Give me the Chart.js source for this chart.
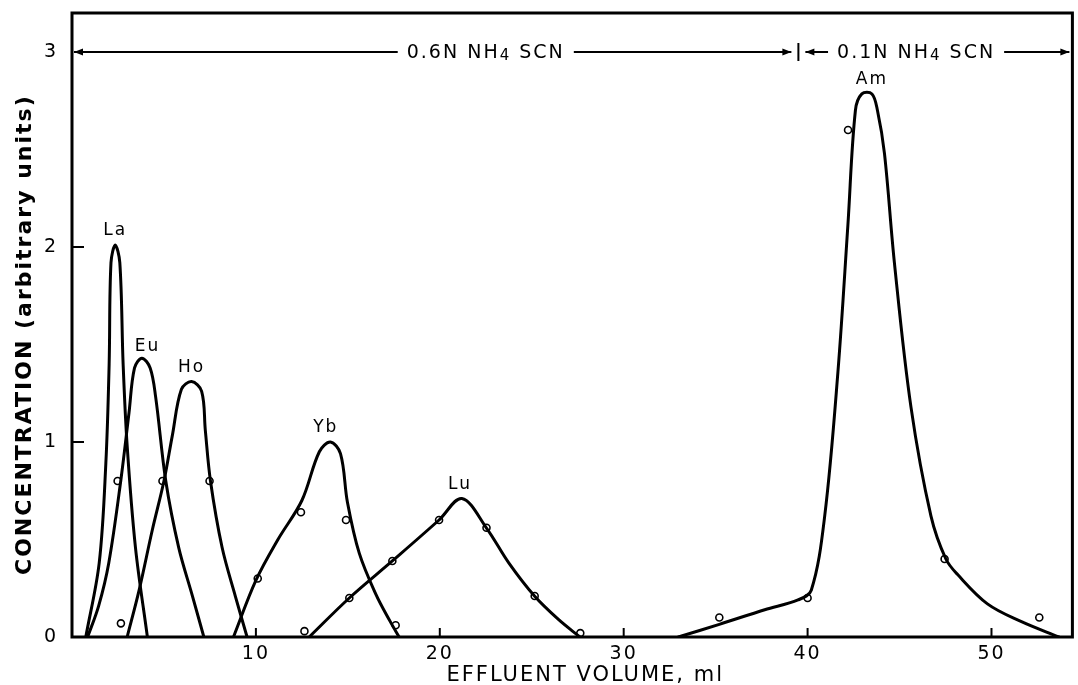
<!DOCTYPE html>
<html>
<head>
<meta charset="utf-8">
<script src="https://cdn.jsdelivr.net/npm/chart.js@4.4.1/dist/chart.umd.min.js"></script>
<style>
  html, body { margin: 0; padding: 0; background: #fff; }
  canvas { display: block; }
</style>
</head>
<body>
<canvas id="grafico" width="1078" height="685"></canvas>
<script>
// elution curves (x = effluent volume ml, y = concentration)
var laX = [0.75, 1.48, 1.84, 2.02, 2.12, 2.35, 2.6, 2.78, 3.0, 3.45, 4.1];
var laY = [0, 0.38, 0.89, 1.40, 1.92, 2.01, 1.92, 1.40, 0.98, 0.46, 0];

var euX = [0.85, 1.45, 2.0, 2.65, 3.1, 3.4, 3.8, 4.25, 4.55, 5.1, 5.8, 6.55, 7.17];
var euY = [0, 0.16, 0.38, 0.80, 1.15, 1.38, 1.43, 1.38, 1.23, 0.80, 0.46, 0.21, 0];

var hoX = [3.0, 3.65, 4.37, 5.0, 5.45, 5.95, 6.5, 7.05, 7.25, 7.53, 8.16, 8.88, 9.52];
var hoY = [0, 0.24, 0.55, 0.80, 1.03, 1.27, 1.31, 1.26, 1.06, 0.80, 0.46, 0.21, 0];

var ybX = [8.78, 10.0, 11.2, 12.5, 13.45, 14.05, 14.6, 14.98, 15.62, 16.52, 17.3, 17.79];
var ybY = [0, 0.29, 0.50, 0.70, 0.95, 1.0, 0.94, 0.69, 0.43, 0.22, 0.08, 0];

var luX = [12.9, 15.08, 17.42, 19.96, 21.2, 22.53, 23.75, 25.15, 26.45, 27.62];
var luY = [0, 0.20, 0.39, 0.60, 0.71, 0.56, 0.38, 0.21, 0.09, 0];

var amX = [32.97, 35.2, 37.67, 39.48, 40.2, 40.93, 41.65, 42.19, 42.6, 42.95, 43.5, 43.8, 44.18, 44.72, 45.62, 46.71, 47.52, 48.16, 49.78, 51.6, 53.67];
var amY = [0, 0.065, 0.14, 0.19, 0.24, 0.62, 1.36, 2.11, 2.70, 2.785, 2.785, 2.70, 2.48, 1.92, 1.18, 0.62, 0.40, 0.32, 0.17, 0.08, 0];

// measured points (open circles)
var obsX = [2.48, 2.66, 4.92, 7.48, 10.1, 12.45, 14.9, 17.6, 12.64, 15.08, 17.42, 19.96, 22.54, 25.16, 27.64, 35.2, 40.0, 42.2, 47.45, 52.6];
var obsY = [0.80, 0.07, 0.80, 0.80, 0.30, 0.64, 0.60, 0.06, 0.03, 0.20, 0.39, 0.60, 0.56, 0.21, 0.02, 0.10, 0.20, 2.60, 0.40, 0.10];

var xTickValues = [10, 20, 30, 40, 50];
var yTickValues = [0, 1, 2, 3];

var peakNames = ['La', 'Eu', 'Ho', 'Yb', 'Lu', 'Am'];
var peakLabelX = [2.35, 4.1, 6.5, 13.8, 21.1, 43.5];
var peakLabelY = [2.01, 1.42, 1.31, 1.0, 0.71, 2.785];

// eluent name is drawn as [before subscript, subscript, after]
var eluentNames = [['0.6N NH', '4', ' SCN'], ['0.1N NH', '4', ' SCN']];
var eluentFrom = [0, 39.5];
var eluentTo = [39.5, 54.4];
var eluentTextX = [22.5, 45.9];
var eluentLevel = 3;

var FONT = '"DejaVu Sans", sans-serif';

function punti(xs, ys) {
  return xs.map(function(x, i) { return {x: x, y: ys[i]}; });
}

function curva(xs, ys) {
  return {
    data: punti(xs, ys),
    borderColor: '#000',
    borderWidth: 3,
    pointRadius: 0,
    tension: 0.35,
    borderJoinStyle: 'round',
    borderCapStyle: 'round',
    fill: false
  };
}

var spaziatura = {
  id: 'spaziatura',
  beforeDraw: function(chart) {
    chart.ctx.letterSpacing = '2px';
  }
};

function freccia(ctx, x, y, dir) {
  ctx.beginPath();
  ctx.moveTo(x, y);
  ctx.lineTo(x - dir * 9, y - 3.5);
  ctx.lineTo(x - dir * 9, y + 3.5);
  ctx.closePath();
  ctx.fill();
}

var decorazioni = {
  id: 'decorazioni',
  afterDraw: function(chart) {
    var ctx = chart.ctx, a = chart.chartArea;
    var xs = chart.scales.x, ys = chart.scales.y;
    ctx.save();
    ctx.letterSpacing = '2px';
    ctx.strokeStyle = '#000';
    ctx.fillStyle = '#000';
    ctx.lineWidth = 3;
    ctx.strokeRect(a.left, a.top, a.right - a.left, a.bottom - a.top);

    // tick marks drawn inside the frame
    ctx.lineWidth = 2;
    xTickValues.forEach(function(v) {
      var px = xs.getPixelForValue(v);
      ctx.beginPath(); ctx.moveTo(px, a.bottom); ctx.lineTo(px, a.bottom - 9); ctx.stroke();
    });
    [1, 2].forEach(function(v) {
      var py = ys.getPixelForValue(v);
      ctx.beginPath(); ctx.moveTo(a.left, py); ctx.lineTo(a.left + 12, py); ctx.stroke();
    });

    // eluent ranges along the top
    var py = ys.getPixelForValue(eluentLevel);
    ctx.textBaseline = 'middle';
    ctx.textAlign = 'left';
    var grande = '19px ' + FONT, piccolo = '15px ' + FONT;
    for (var i = 0; i < eluentNames.length; i++) {
      var parti = eluentNames[i];
      var x1 = xs.getPixelForValue(eluentFrom[i]) + (i === 0 ? 2 : 7);
      var x2 = Math.min(xs.getPixelForValue(eluentTo[i]), a.right) - (i === 0 ? 7 : 3);
      ctx.lineWidth = 2.2;
      ctx.beginPath(); ctx.moveTo(x1, py); ctx.lineTo(x2, py); ctx.stroke();
      freccia(ctx, x1, py, -1);
      freccia(ctx, x2, py, 1);
      ctx.font = grande;
      var w0 = ctx.measureText(parti[0]).width, w2 = ctx.measureText(parti[2]).width;
      ctx.font = piccolo;
      var w1 = ctx.measureText(parti[1]).width;
      var w = w0 + w1 + w2;
      var tx = xs.getPixelForValue(eluentTextX[i]) - w / 2;
      ctx.fillStyle = '#fff';
      ctx.fillRect(tx - 9, py - 12, w + 18, 24);
      ctx.fillStyle = '#000';
      ctx.font = grande;
      ctx.fillText(parti[0], tx, py + 1);
      ctx.font = piccolo;
      ctx.fillText(parti[1], tx + w0, py + 4);
      ctx.font = grande;
      ctx.fillText(parti[2], tx + w0 + w1, py + 1);
    }
    var sx = xs.getPixelForValue(eluentTo[0]);
    ctx.lineWidth = 2;
    ctx.beginPath(); ctx.moveTo(sx, py - 9); ctx.lineTo(sx, py + 9); ctx.stroke();

    // peak names
    ctx.textAlign = 'center';
    ctx.font = '17px ' + FONT;
    for (var j = 0; j < peakNames.length; j++) {
      ctx.fillText(peakNames[j], xs.getPixelForValue(peakLabelX[j]), ys.getPixelForValue(peakLabelY[j]) - 14);
    }
    ctx.restore();
  }
};

var datasets = [
  curva(laX, laY), curva(euX, euY), curva(hoX, hoY),
  curva(ybX, ybY), curva(luX, luY), curva(amX, amY),
  {
    data: punti(obsX, obsY),
    showLine: false,
    pointStyle: 'circle',
    pointRadius: 3.5,
    pointBorderWidth: 1.6,
    pointBorderColor: '#000',
    pointBackgroundColor: '#fff'
  }
];

var grafico = new Chart(document.getElementById('grafico'), {
  type: 'line',
  data: { datasets: datasets },
  plugins: [spaziatura, decorazioni],
  options: {
    responsive: false,
    animation: false,
    devicePixelRatio: 1,
    layout: { padding: { top: 13, right: 3, left: 0, bottom: 0 } },
    plugins: { legend: { display: false }, tooltip: { enabled: false } },
    scales: {
      x: {
        type: 'linear',
        min: 0,
        max: 54.4,
        afterFit: function(s) { s.height = 48; s.paddingLeft = 0; s.paddingRight = 0; },
        grid: { display: false, drawTicks: false },
        border: { display: false },
        ticks: {
          stepSize: 10,
          autoSkip: false,
          maxRotation: 0,
          padding: 6,
          color: '#000',
          font: { family: FONT, size: 19 },
          callback: function(v) { return xTickValues.indexOf(v) >= 0 ? String(v) : ''; }
        },
        title: {
          display: true,
          text: '   EFFLUENT VOLUME, ml',
          color: '#000',
          font: { family: FONT, size: 21 },
          padding: { top: 0, bottom: -3 }
        }
      },
      y: {
        min: 0,
        max: 3.2,
        afterFit: function(s) { s.width = 72; s.paddingTop = 0; s.paddingBottom = 0; },
        grid: { display: false, drawTicks: false },
        border: { display: false },
        ticks: {
          stepSize: 1,
          autoSkip: false,
          padding: 14,
          color: '#000',
          font: { family: FONT, size: 19 },
          callback: function(v) { return yTickValues.indexOf(v) >= 0 ? String(v) : ''; }
        },
        title: {
          display: true,
          text: 'CONCENTRATION (arbitrary units)  ',
          color: '#000',
          font: { family: FONT, size: 22, weight: 'bold' },
          padding: { top: 12 }
        }
      }
    }
  }
});
</script>
</body>
</html>
